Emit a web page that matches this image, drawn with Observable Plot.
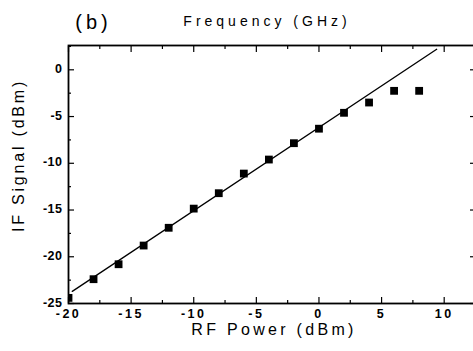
<!DOCTYPE html>
<html>
<head>
<meta charset="utf-8">
<script src="https://cdn.jsdelivr.net/npm/d3@7"></script>
<script src="https://cdn.jsdelivr.net/npm/@observablehq/plot@0.6"></script>
<style>
  html, body { margin: 0; padding: 0; background: #fff; }
  #chart svg { display: block; }
  g[aria-label="x-axis tick label"] text { letter-spacing: 2.5px; }
  g[aria-label="y-axis tick label"] text { letter-spacing: 0.5px; }
</style>
</head>
<body>
<div id="chart"></div>
<script>
// RF input power (dBm) and measured IF signal (dBm)
const rfPower = [-20, -18, -16, -14, -12, -10, -8, -6, -4, -2, 0, 2, 4, 6, 8];
const ifSignal = [-24.4, -22.4, -20.8, -18.8, -16.9, -14.85, -13.2, -11.1, -9.6, -7.85, -6.3, -4.6, -3.5, -2.25, -2.25];
// Linear fit line endpoints
const fitX = [-19.7, 9.4];
const fitY = [-23.7, 2.2];
// Tick values
const xMajor = [-20, -15, -10, -5, 0, 5, 10];
const xMinor = [-17.5, -12.5, -7.5, -2.5, 2.5, 7.5];
const yMajor = [0, -5, -10, -15, -20, -25];
const yMinor = [2.5, -2.5, -7.5, -12.5, -17.5, -22.5];
const panelLabel = "(b)";
const topLabel = "Frequency (GHz)";
const xLabel = "RF Power (dBm)";
const yLabel = "IF Signal (dBm)";

const points = rfPower.map((x, i) => ({x, y: ifSignal[i]}));
const fit = fitX.map((x, i) => ({x, y: fitY[i]}));
const blank = () => "";

const chart = Plot.plot({
  width: 473,
  height: 351,
  marginLeft: 68,
  marginRight: -2,
  marginTop: 45,
  marginBottom: 48,
  x: {domain: [-20, 12.5]},
  y: {domain: [-25, 2.6]},
  style: {fontFamily: "'Liberation Sans', Arial, sans-serif", fontSize: "12.5px", fontWeight: "bold", color: "#000", background: "#fff"},
  marks: [
    // tick labels
    Plot.axisX({anchor: "bottom", ticks: xMajor, tickSize: 0, tickPadding: 6, label: null, tickFormat: d => String(d)}),
    Plot.axisY({anchor: "left", ticks: yMajor, tickSize: 0, tickPadding: 6, label: null, tickFormat: d => String(d), dy: -1}),
    // inward tick marks: bottom
    Plot.axisX({anchor: "bottom", ticks: xMajor, tickSize: 6, dy: -6, label: null, tickFormat: blank, strokeWidth: 1.2}),
    Plot.axisX({anchor: "bottom", ticks: xMinor, tickSize: 3, dy: -3, label: null, tickFormat: blank, strokeWidth: 1.2}),
    // top
    Plot.axisX({anchor: "top", ticks: xMajor, tickSize: 6, dy: 6, label: null, tickFormat: blank, strokeWidth: 1.2}),
    Plot.axisX({anchor: "top", ticks: xMinor, tickSize: 3, dy: 3, label: null, tickFormat: blank, strokeWidth: 1.2}),
    // left
    Plot.axisY({anchor: "left", ticks: yMajor, tickSize: 6, dx: 6, label: null, tickFormat: blank, strokeWidth: 1.2}),
    Plot.axisY({anchor: "left", ticks: yMinor, tickSize: 3, dx: 3, label: null, tickFormat: blank, strokeWidth: 1.2}),
    // right
    Plot.axisY({anchor: "right", ticks: yMajor, tickSize: 6, dx: -6, label: null, tickFormat: blank, strokeWidth: 1.2}),
    Plot.axisY({anchor: "right", ticks: yMinor, tickSize: 3, dx: -3, label: null, tickFormat: blank, strokeWidth: 1.2}),
    Plot.frame({stroke: "#000", strokeWidth: 1.8}),
    Plot.line(fit, {x: "x", y: "y", stroke: "#000", strokeWidth: 1.3}),
    Plot.dot(points, {x: "x", y: "y", symbol: "square", r: 4.4, fill: "#000", stroke: "none", clip: true}),
    // titles
    Plot.text([xLabel], {text: d => d, frameAnchor: "bottom", lineAnchor: "middle", textAnchor: "middle", dx: 2, dy: 26, fontSize: 16, fontWeight: "normal"}),
    Plot.text([yLabel], {text: d => d, frameAnchor: "left", lineAnchor: "middle", textAnchor: "middle", dx: -50, dy: -19, rotate: -90, fontSize: 16, fontWeight: "normal"}),
    Plot.text([topLabel], {text: d => d, frameAnchor: "top", lineAnchor: "middle", textAnchor: "middle", dx: -5, dy: -24, fontSize: 14, fontWeight: "normal"}),
    Plot.text([panelLabel], {text: d => d, frameAnchor: "top-left", lineAnchor: "middle", textAnchor: "middle", dx: 25, dy: -23, fontSize: 20, fontWeight: "normal"})
  ]
});

d3.select(chart).selectAll("text").each(function() {
  const t = this.textContent;
  if (t === xLabel) this.style.letterSpacing = "3.3px";
  else if (t === yLabel) this.style.letterSpacing = "2.8px";
  else if (t === topLabel) this.style.letterSpacing = "4px";
  else if (t === panelLabel) this.style.letterSpacing = "4px";
});

document.getElementById("chart").appendChild(chart);
</script>
</body>
</html>
